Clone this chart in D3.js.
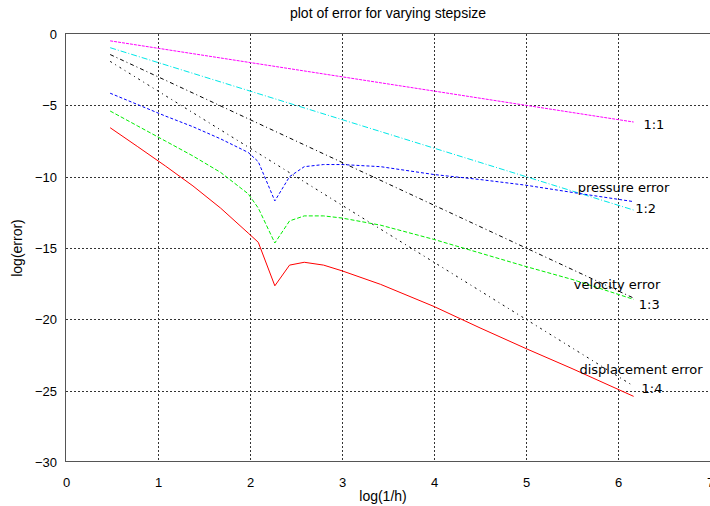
<!DOCTYPE html>
<html>
<head>
<meta charset="utf-8">
<script src="https://cdn.jsdelivr.net/npm/d3@7"></script>
<style>
  html, body { margin: 0; padding: 0; background: #fff; }
  svg { display: block; }
</style>
</head>
<body>
<svg id="chart" width="710" height="506"></svg>
<script>
// log(1/h) sample positions shared by the three error curves
const logInvH = [0.48, 0.78, 1.08, 1.38, 1.68, 1.98, 2.09, 2.27, 2.43, 2.59, 2.8, 3.0, 3.42, 4.0, 4.5, 5.0, 5.5, 6.17];

// log(error) for each quantity
const pressureError = [-4.15, -4.95, -5.75, -6.5, -7.35, -8.3, -8.95, -11.7, -10.0, -9.3, -9.15, -9.15, -9.3, -9.85, -10.2, -10.6, -11.1, -11.75];
const velocityError = [-5.4, -6.45, -7.5, -8.55, -9.7, -11.2, -12.2, -14.65, -13.1, -12.75, -12.75, -12.9, -13.4, -14.4, -15.35, -16.3, -17.2, -18.6];
const displacementError = [-6.57, -7.9, -9.25, -10.65, -12.2, -13.95, -14.6, -17.65, -16.2, -16.0, -16.2, -16.6, -17.55, -19.1, -20.6, -22.05, -23.45, -25.4];

// reference slope lines 1:1 .. 1:4, given by their end points
const refX = [0.48, 6.17];
const ref1 = [-0.48, -6.17];
const ref2 = [-0.96, -12.34];
const ref3 = [-1.44, -18.51];
const ref4 = [-1.92, -24.68];

// axis ticks
const xTicks = [0, 1, 2, 3, 4, 5, 6, 7];
const yTicks = [0, -5, -10, -15, -20, -25, -30];

const svg = d3.select("#chart");
const plotLeft = 66, plotRight = 710, plotTop = 34, plotBottom = 462;

const x = d3.scaleLinear().domain([0, 7]).range([plotLeft, plotRight]);
const y = d3.scaleLinear().domain([-30, 0]).range([plotBottom, plotTop]);

const axisFont = "'Liberation Sans', Arial, Helvetica, sans-serif";
const labelFont = "'DejaVu Sans', sans-serif";

// grid
const grid = svg.append("g").attr("shape-rendering", "crispEdges");
grid.selectAll("line.gx").data(xTicks.filter(d => d > 0 && d < 7)).enter().append("line")
  .attr("x1", d => Math.round(x(d)) + 0.5).attr("x2", d => Math.round(x(d)) + 0.5)
  .attr("y1", plotTop).attr("y2", plotBottom)
  .attr("stroke", "#333").attr("stroke-dasharray", "2,2");
grid.selectAll("line.gy").data(yTicks.filter(d => d < 0 && d > -30)).enter().append("line")
  .attr("y1", d => Math.round(y(d)) + 0.5).attr("y2", d => Math.round(y(d)) + 0.5)
  .attr("x1", plotLeft).attr("x2", plotRight)
  .attr("stroke", "#333").attr("stroke-dasharray", "2,2");

// border
grid.append("rect")
  .attr("x", plotLeft - 0.5).attr("y", plotTop - 0.5)
  .attr("width", plotRight - plotLeft + 5).attr("height", plotBottom - plotTop)
  .attr("fill", "none").attr("stroke", "#555");

// axes
const xAxis = d3.axisBottom(x).tickValues(xTicks).tickSize(0).tickPadding(0).tickFormat(d3.format("d"));
const yAxis = d3.axisLeft(y).tickValues(yTicks).tickSize(0).tickPadding(0).tickFormat(d3.format("d"));

const gx = svg.append("g").attr("transform", `translate(0,${plotBottom})`).call(xAxis);
gx.select(".domain").remove();
gx.selectAll("text").attr("dy", null).attr("y", 25)
  .attr("font-family", axisFont).attr("font-size", 13).attr("fill", "#000");

const gy = svg.append("g").attr("transform", `translate(${plotLeft - 9},0)`).call(yAxis);
gy.select(".domain").remove();
gy.selectAll("text").attr("dy", "0.35em").attr("x", 0)
  .attr("font-family", axisFont).attr("font-size", 13).attr("fill", "#000");

// titles
svg.append("text").attr("x", (plotLeft + plotRight) / 2).attr("y", 18)
  .attr("text-anchor", "middle").attr("font-family", axisFont).attr("font-size", 14)
  .text("plot of error for varying stepsize");
svg.append("text").attr("x", (plotLeft + plotRight) / 2 - 5).attr("y", 501)
  .attr("text-anchor", "middle").attr("font-family", axisFont).attr("font-size", 14)
  .text("log(1/h)");
svg.append("text").attr("transform", `translate(22,${(plotTop + plotBottom) / 2}) rotate(-90)`)
  .attr("text-anchor", "middle").attr("font-family", axisFont).attr("font-size", 14)
  .text("log(error)");

// series
const line = d3.line().x(d => x(d[0])).y(d => y(d[1]));
const series = [
  { xs: refX, ys: ref1, color: "#ff00ff", dash: "3,1" },
  { xs: refX, ys: ref2, color: "#00e8e8", dash: "6,2,1,2" },
  { xs: refX, ys: ref3, color: "#000", dash: "4,3,1,3" },
  { xs: refX, ys: ref4, color: "#000", dash: "2,4,1,4" },
  { xs: logInvH, ys: pressureError, color: "#0000ff", dash: "3,2" },
  { xs: logInvH, ys: velocityError, color: "#00ee00", dash: "4,2" },
  { xs: logInvH, ys: displacementError, color: "#ff0000", dash: null }
];
svg.append("g").selectAll("path").data(series).enter().append("path")
  .attr("d", s => line(s.xs.map((v, i) => [v, s.ys[i]])))
  .attr("fill", "none")
  .attr("stroke", s => s.color)
  .attr("stroke-width", 1)
  .attr("stroke-dasharray", s => s.dash);

// annotations, anchored in data coordinates (text baseline, centred)
const annotations = [
  { text: "1:1", at: [6.39, -6.66] },
  { text: "pressure error", at: [6.06, -11.05] },
  { text: "1:2", at: [6.30, -12.52] },
  { text: "velocity error", at: [5.99, -17.89] },
  { text: "1:3", at: [6.34, -19.27] },
  { text: "displacement error", at: [6.25, -23.85] },
  { text: "1:4", at: [6.37, -25.19] }
];
svg.append("g").selectAll("text").data(annotations).enter().append("text")
  .attr("x", d => x(d.at[0])).attr("y", d => y(d.at[1]))
  .attr("text-anchor", "middle")
  .attr("font-family", labelFont).attr("font-size", 13).attr("fill", "#000")
  .text(d => d.text);
</script>
</body>
</html>
